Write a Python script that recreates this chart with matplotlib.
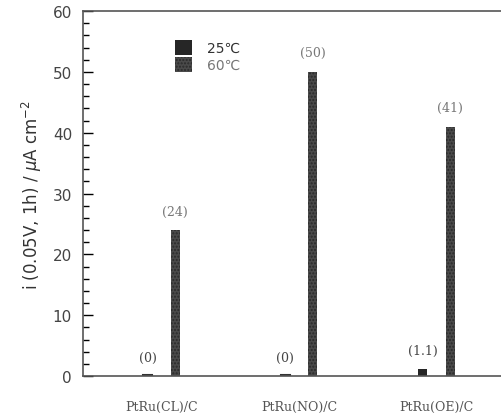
import numpy as np
import matplotlib
matplotlib.use('agg')
import matplotlib.pyplot as plt
from matplotlib.ticker import MultipleLocator

catalysts = ['PtRu(CL)/C', 'PtRu(NO)/C', 'PtRu(OE)/C']
temps = ['25\u2103', '60\u2103']
i_25 = [0.0, 0.0, 1.1]
i_60 = [24.0, 50.0, 41.0]
lab_25 = ['(0)', '(0)', '(1.1)']
lab_60 = ['(24)', '(50)', '(41)']

x = np.arange(len(catalysts))
w = 0.065
off = 0.1

fig = plt.figure(figsize=(5.01, 4.14), dpi=100)
ax = fig.add_axes([0.166, 0.089, 0.834, 0.882])

b1 = ax.bar(x - off, i_25, w, color='#262626', label=temps[0])
b2 = ax.bar(x + off, i_60, w, color='#4a4a4a', hatch='.....',
            edgecolor='#2a2a2a', linewidth=0, label=temps[1])
# zero values still show as a thin dash on the axis
for xi, v in zip(x - off, i_25):
    if v == 0:
        ax.plot([xi - w / 2, xi + w / 2], [0.15, 0.15], color='#333333', lw=1.5)

for xi, v, s in zip(x - off, i_25, lab_25):
    ax.annotate(s, (xi, v), xytext=(0, 9), textcoords='offset points',
                ha='center', va='bottom', fontsize=9, color='#444444',
                family='DejaVu Serif')
for xi, v, s in zip(x + off, i_60, lab_60):
    ax.annotate(s, (xi, v), xytext=(0, 9), textcoords='offset points',
                ha='center', va='bottom', fontsize=9, color='#777777',
                family='DejaVu Serif')

ax.set_xlim(-0.57, 2.47)
ax.set_ylim(0, 60)
ax.yaxis.set_major_locator(MultipleLocator(10))
ax.yaxis.set_minor_locator(MultipleLocator(2))
ax.tick_params(axis='y', which='major', direction='in', length=7, width=1,
               labelsize=11, labelcolor='#444444', pad=8)
ax.tick_params(axis='y', which='minor', direction='in', length=4, width=1)
ax.set_xticks(x)
ax.set_xticklabels(catalysts, family='DejaVu Serif', fontsize=9, color='#555555')
ax.tick_params(axis='x', length=0, pad=17)

ax.spines['right'].set_visible(False)
for s in ['left', 'top', 'bottom']:
    ax.spines[s].set_color('#555555')
    ax.spines[s].set_linewidth(1.2)

ax.set_ylabel(r'i (0.05V, 1h) / $\mu$A cm$^{-2}$', fontsize=12, color='#333333',
              labelpad=6)

ax.legend(handles=[b1, b2], loc='upper left', bbox_to_anchor=(0.19, 0.955),
          frameon=False, fontsize=10, handlelength=1.2, handleheight=1.3,
          handletextpad=1.1, labelspacing=0.1, labelcolor=['#333333', '#777777'])

plt.savefig('out.png', dpi=100)
